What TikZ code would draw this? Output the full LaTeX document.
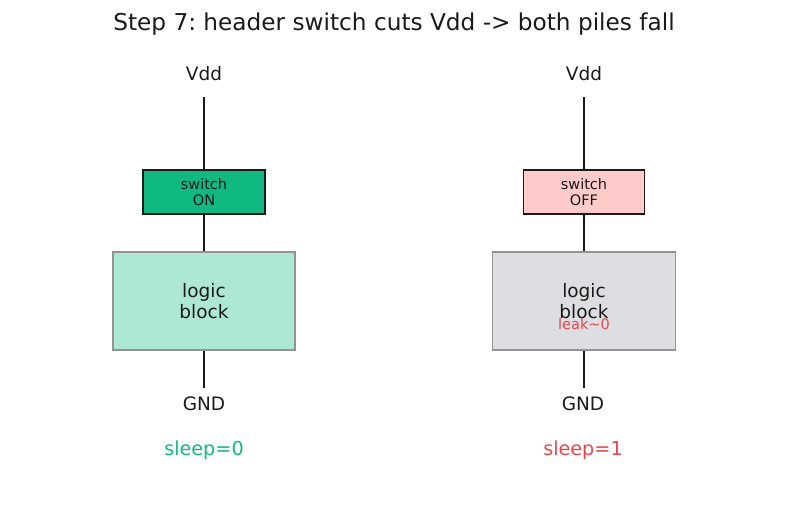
\documentclass[tikz,border=0pt]{standalone}
\usepackage{fontspec}
\setmainfont{DejaVu Sans}
\frenchspacing
\definecolor{ongreen}{HTML}{10B981}
\definecolor{onfill}{HTML}{ADE8D5}
\definecolor{offred}{HTML}{FECACA}
\definecolor{offfill}{HTML}{DCDEE1}
\definecolor{redtxt}{HTML}{E5484D}
\definecolor{txt}{HTML}{1A1A1A}
\begin{document}
\begin{tikzpicture}[x=1pt,y=-1pt,
  wire/.style={line width=2.6pt,draw=txt},
  swbox/.style={draw=txt,line width=1.5pt,minimum width=122pt,minimum height=44pt,inner sep=0pt,align=center,font=\fontsize{14.5}{16}\selectfont,text=txt},
  logicbox/.style={draw=gray!85,line width=1.5pt,minimum width=182pt,minimum height=98pt,inner sep=0pt,align=center,font=\fontsize{18.5}{21.5}\selectfont,text=txt},
  lbl/.style={font=\fontsize{18.5}{22}\selectfont,text=txt,inner sep=0pt}]
\useasboundingbox (0,0) rectangle (787,510);
\node[font=\fontsize{23.2}{27}\selectfont,text=txt] (title) at (394,24) {Step 7: header switch cuts Vdd -> both piles fall};
% left
\node[lbl] (vddL) at (204,74) {Vdd};
\coordinate (topL) at (204,97);
\node[swbox,fill=ongreen] (swL) at (204,192) {switch\\ON};
\node[logicbox,fill=onfill] (lbL) at (204,301) {logic\\block};
\coordinate (botL) at (204,388);
\node[lbl] (gndL) at (204,404) {GND};
\node[lbl,text=ongreen,font=\fontsize{19.2}{22}\selectfont] (sleepL) at (204,450) {sleep=0};
\draw[wire] (topL) -- (swL.north);
\draw[wire] (swL.south) -- (lbL.north);
\draw[wire] (lbL.south) -- (botL);
% right
\node[lbl] (vddR) at (584,74) {Vdd};
\coordinate (topR) at (584,97);
\node[swbox,fill=offred,minimum width=121pt] (swR) at (584,192) {switch\\OFF};
\node[logicbox,fill=offfill,minimum width=183pt] (lbR) at (584,301) {logic\\block};
\node[font=\fontsize{14.5}{16}\selectfont,text=redtxt,inner sep=0pt] (leak) at (584,324) {leak\textasciitilde 0};
\coordinate (botR) at (584,388);
\node[lbl] (gndR) at (583,404) {GND};
\node[lbl,text=redtxt,font=\fontsize{19.2}{22}\selectfont] (sleepR) at (583,450) {sleep=1};
\draw[wire] (topR) -- (swR.north);
\draw[wire] (swR.south) -- (lbR.north);
\draw[wire] (lbR.south) -- (botR);
\end{tikzpicture}
\end{document}
